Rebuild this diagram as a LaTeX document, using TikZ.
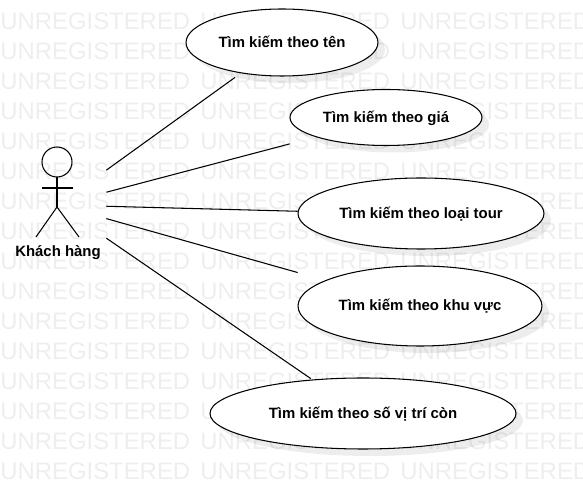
\documentclass[tikz,border=0pt]{standalone}
\usepackage{fontspec}
\setmainfont{Liberation Sans}
\usetikzlibrary{math}
\usetikzlibrary{shapes.geometric}
\definecolor{mywater}{RGB}{238,238,238}
\tikzset{
  usecase/.style={rectangle,inner sep=0pt,align=center,font=\fontsize{8.5}{10}\selectfont\bfseries},
  bubble/.style={draw=black,fill=white,line width=0.6pt},
  shade/.style={fill=black,opacity=0.07},
  stick/.style={draw=black,line width=0.6pt},
  assoc/.style={draw=black,line width=0.6pt},
  water/.style={anchor=base west,inner sep=0pt,text=mywater,font=\fontsize{13.6}{16}\selectfont}
}
\begin{document}
\begin{tikzpicture}[x=0.02cm,y=-0.02cm]
\tikzmath{
\ax=58;
\ay=205;
\hx=57;
\hy=162;
\off=7;
\u=0.02;
}
\useasboundingbox (0,0) rectangle (583,489);
%watermark
\foreach \r in {0,...,15}{
  \foreach \c in {0,1,2}{
    \node[water] (wm\r-\c) at (200*\c,30+30*\r) {UNREGISTERED};
  }
}
%use cases
\foreach \nm/\cx/\cy/\rw/\rh/\txt in {ten/282/42.5/96/33.5/Tìm kiếm theo tên,gia/386/117.5/96/28/Tìm kiếm theo giá,loai/421/213.5/123/35.5/Tìm kiếm theo loại tour,khuvuc/420/306/122/40/Tìm kiếm theo khu vực,soviti/363/413.5/153/35.5/Tìm kiếm theo số vị trí còn}{
  \fill[shade] (\cx+\off,\cy+\off) ellipse ({\rw} and {-\rh});
  \draw[bubble] (\cx,\cy) ellipse ({\rw} and {-\rh});
  \node[usecase,minimum width=2*\rw*\u cm,minimum height=2*\rh*\u cm,text height=6.2pt,text depth=1.8pt] (\nm) at (\cx,\cy+1) {\txt};
}
%actor
\node[minimum width=96*\u cm,minimum height=90*\u cm,inner sep=0pt] (actor) at (\ax,\ay) {};
\draw[stick] (\hx,\hy) circle (15);
\draw[stick] (\hx,\hy+15) -- (\hx,207);
\draw[stick] (42,188) -- (73,188);
\draw[stick] (36,237) -- (\hx,207) -- (79,237);
\node[inner sep=0pt,font=\fontsize{8.5}{10}\selectfont\bfseries] (khach) at (58,253) {Khách hàng};
%connectors
\foreach \t in {ten,gia,loai,khuvuc,soviti}{
  \draw[assoc] (actor) -- (\t);
}
\end{tikzpicture}
\end{document}
